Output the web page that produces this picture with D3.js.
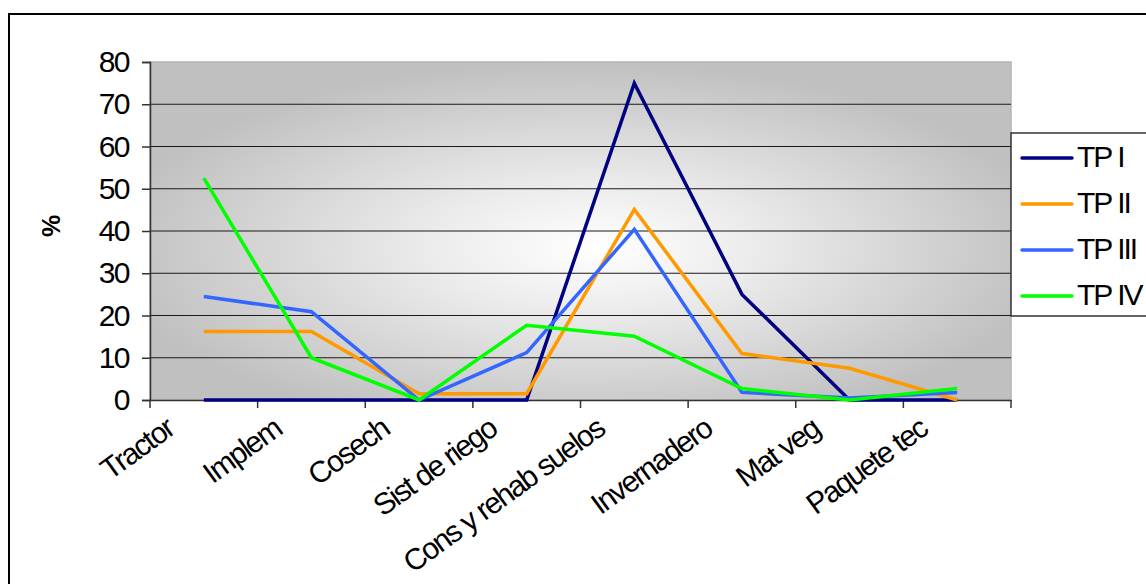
<!DOCTYPE html>
<html>
<head>
<meta charset="utf-8">
<script src="https://cdn.jsdelivr.net/npm/d3@7"></script>
<style>
  html, body { margin: 0; padding: 0; background: #fff; }
  svg { display: block; }
  text { font-family: "Liberation Sans", Arial, sans-serif; }
</style>
</head>
<body>
<svg id="chart" width="1146" height="584"></svg>
<script>
const categories = ["Tractor", "Implem", "Cosech", "Sist de riego", "Cons y rehab suelos", "Invernadero", "Mat veg", "Paquete tec"];
const seriesNames = ["TP I", "TP II", "TP III", "TP IV"];
const tpI   = [0, 0, 0, 0, 75, 25, 0, 0];
const tpII  = [16.2, 16.2, 1.5, 1.5, 45.1, 11, 7.5, 0];
const tpIII = [24.5, 20.9, 0, 11.2, 40.4, 1.8, 0.5, 1.8];
const tpIV  = [52.5, 10, 0, 17.7, 15.1, 2.7, 0, 2.7];
const yTicks = [0, 10, 20, 30, 40, 50, 60, 70, 80];
const colors = ["#000080", "#FF9900", "#3366FF", "#00FF00"];
const yLabel = "%";

const seriesValues = [tpI, tpII, tpIII, tpIV];
const svg = d3.select("#chart");

const plot = { left: 150, right: 1011, top: 62, bottom: 400 };
const fontSize = 30;

// outer chart border
svg.append("rect")
  .attr("x", 9).attr("y", 14).attr("width", 1160).attr("height", 600)
  .attr("fill", "#fff").attr("stroke", "#000").attr("stroke-width", 2);

// gradient background
const defs = svg.append("defs");
const grad = defs.append("radialGradient")
  .attr("id", "bg").attr("cx", 0.5).attr("cy", 0.55).attr("r", 0.55)
  .attr("fx", 0.52).attr("fy", 0.55);
grad.append("stop").attr("offset", "0%").attr("stop-color", "#ffffff");
grad.append("stop").attr("offset", "35%").attr("stop-color", "#ebebeb");
grad.append("stop").attr("offset", "100%").attr("stop-color", "#c0c0c0");

const x = d3.scaleBand().domain(categories).range([plot.left, plot.right]).padding(0);
const y = d3.scaleLinear().domain([0, 80]).range([plot.bottom, plot.top]);

svg.append("rect")
  .attr("x", plot.left).attr("y", plot.top)
  .attr("width", plot.right - plot.left).attr("height", plot.bottom - plot.top)
  .attr("fill", "url(#bg)").attr("stroke", "#b4b4b4").attr("stroke-width", 1.5);

// gridlines
svg.append("g").selectAll("line")
  .data(yTicks.filter(d => d > 0 && d < 80))
  .join("line")
  .attr("x1", plot.left).attr("x2", plot.right)
  .attr("y1", d => y(d)).attr("y2", d => y(d))
  .attr("stroke", "#1a1a1a").attr("stroke-width", 1.2);

// y axis
const yAxis = d3.axisLeft(y).tickValues(yTicks).tickSize(8).tickPadding(13);
const gy = svg.append("g").attr("transform", `translate(${plot.left},0)`).call(yAxis);
gy.select(".domain").attr("stroke", "#333").attr("stroke-width", 1.5);
gy.selectAll(".tick line").attr("stroke", "#333").attr("stroke-width", 1.5);
gy.selectAll(".tick text")
  .attr("font-size", fontSize).attr("letter-spacing", "-1.5px").attr("fill", "#000")
  .attr("font-family", "Liberation Sans, Arial, sans-serif");

// x axis
const xAxis = d3.axisBottom(x).tickSize(0).tickFormat("");
const gx = svg.append("g").attr("transform", `translate(0,${plot.bottom})`).call(xAxis);
gx.select(".domain").attr("stroke", "#333").attr("stroke-width", 1.5);
const boundaries = categories.map(c => x(c)).concat([plot.right]);
gx.selectAll("line.sep").data(boundaries).join("line").attr("class", "sep")
  .attr("x1", d => d).attr("x2", d => d).attr("y1", 0).attr("y2", 8)
  .attr("stroke", "#333").attr("stroke-width", 1.5);

// x labels rotated
svg.append("g").selectAll("text").data(categories).join("text")
  .attr("transform", d => `translate(${x(d) + x.bandwidth() / 2 - 28},433) rotate(-36)`)
  .attr("text-anchor", "end")
  .attr("font-size", fontSize).attr("letter-spacing", "-1.8px").attr("fill", "#000")
  .text(d => d);

// y label
svg.append("text")
  .attr("transform", "translate(60,226) rotate(-90)")
  .attr("text-anchor", "middle")
  .attr("font-size", 25).attr("font-weight", "bold").attr("fill", "#000")
  .text(yLabel);

// lines
const line = d3.line()
  .x((d, i) => x(categories[i]) + x.bandwidth() / 2)
  .y(d => y(d));
svg.append("g").selectAll("path").data(seriesValues).join("path")
  .attr("d", d => line(d))
  .attr("fill", "none")
  .attr("stroke", (d, i) => colors[i])
  .attr("stroke-width", 3.5)
  .attr("stroke-linejoin", "miter");

// legend
const lg = svg.append("g");
lg.append("rect")
  .attr("x", 1011).attr("y", 133).attr("width", 160).attr("height", 183)
  .attr("fill", "#fff").attr("stroke", "#333").attr("stroke-width", 1.5);
const items = lg.selectAll("g.item").data(seriesNames).join("g").attr("class", "item")
  .attr("transform", (d, i) => `translate(0,${158 + i * 46})`);
items.append("line")
  .attr("x1", 1022).attr("x2", 1072).attr("y1", 0).attr("y2", 0)
  .attr("stroke", (d, i) => colors[i]).attr("stroke-width", 3.5).attr("stroke-linecap", "round");
items.append("text")
  .attr("x", 1077).attr("y", 9)
  .attr("font-size", fontSize).attr("letter-spacing", "-2px").attr("fill", "#000")
  .text(d => d);
</script>
</body>
</html>
